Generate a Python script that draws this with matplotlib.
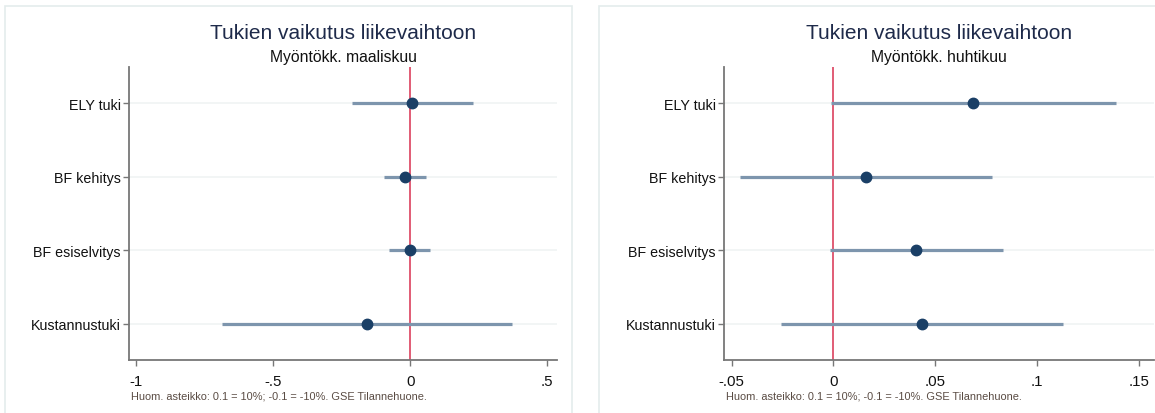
import matplotlib
matplotlib.use("Agg")
import matplotlib.pyplot as plt
from matplotlib.patches import Rectangle

plt.rcParams['font.family'] = ['Liberation Sans', 'DejaVu Sans']

# data
categories = ["ELY tuki", "BF kehitys", "BF esiselvitys", "Kustannustuki"]

mar_coef = [0.008, -0.018, -0.001, -0.159]
mar_lo = [-0.213, -0.097, -0.076, -0.688]
mar_hi = [0.228, 0.058, 0.074, 0.371]

apr_coef = [0.0687, 0.016, 0.0404, 0.0434]
apr_lo = [-0.0012, -0.046, -0.0018, -0.026]
apr_hi = [0.139, 0.0778, 0.0832, 0.113]

title = "Tukien vaikutus liikevaihtoon"
subtitles = ["Myöntökk. maaliskuu", "Myöntökk. huhtikuu"]
note = "Huom. asteikko: 0.1 = 10%; -0.1 = -10%. GSE Tilannehuone."

W, H = 1155, 414
fig = plt.figure(figsize=(W / 100, H / 100), dpi=100)

# panel frames
for x0, x1 in [(5, 572), (599, 1160)]:
    fig.patches.append(Rectangle((x0 / W, -0.05), (x1 - x0) / W, (H - 7) / H + 0.05,
                                 transform=fig.transFigure, fill=False,
                                 edgecolor="#e4ecec", linewidth=1.2))

ci_col = "#7d95ad"
pt_col = "#1a3f66"
red = "#d8304f"
axis_col = "#777777"

def panel(rect, coef, lo, hi, xlim, ticks, ticklabels, sub, note_x):
    ax = fig.add_axes(rect)
    y = list(range(len(categories)))
    for yy in y:
        ax.axhline(yy, color="#f0f4f4", lw=1.2, zorder=0)
    ax.axvline(0, color=red, lw=1.1, zorder=2)
    ax.hlines(y, lo, hi, color=ci_col, lw=2.3, zorder=3)
    ax.plot(coef, y, "o", color=pt_col, ms=7.5, zorder=4)
    ax.set_ylim(3.49, -0.49)
    ax.set_xlim(*xlim)
    ax.set_yticks(y)
    ax.set_yticklabels(categories, fontsize=10.3)
    ax.set_xticks(ticks)
    ax.set_xticklabels(ticklabels, fontsize=10.8)
    for s in ["top", "right"]:
        ax.spines[s].set_visible(False)
    for s in ["left", "bottom"]:
        ax.spines[s].set_color(axis_col)
        ax.spines[s].set_linewidth(1.3)
    ax.tick_params(axis="both", colors=axis_col, labelcolor="#111111", length=4, width=1)
    ax.tick_params(axis="x", pad=6)
    ax.tick_params(axis="y", pad=2)
    ax.text(0.5, 1.119, title, transform=ax.transAxes, ha="center", va="center",
            fontsize=15, color="#1e2a4a")
    ax.text(0.5, 1.0375, sub, transform=ax.transAxes, ha="center", va="center",
            fontsize=11.3, color="#111111")
    fig.text(note_x / W, 1 - 397 / H, note, ha="left", va="center", fontsize=7.9, color="#5a4c44")
    return ax

bot = (H - 361) / H
hgt = (361 - 68) / H
panel([129 / W, bot, (557 - 129) / W, hgt], mar_coef, mar_lo, mar_hi,
      (-1.026, 0.536), [-1, -0.5, 0, 0.5], ["-1", "-.5", "0", ".5"], subtitles[0], 131)
panel([724 / W, bot, (1154 - 724) / W, hgt], apr_coef, apr_lo, apr_hi,
      (-0.0538, 0.1575), [-0.05, 0, 0.05, 0.1, 0.15], ["-.05", "0", ".05", ".1", ".15"],
      subtitles[1], 726)

fig.savefig("out.png", dpi=100)
